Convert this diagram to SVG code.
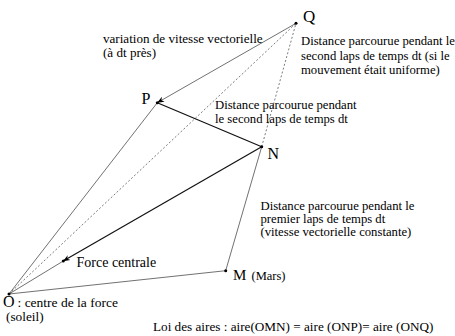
<svg xmlns="http://www.w3.org/2000/svg" width="455" height="336" viewBox="0 0 455 336">
<style>
text{font-family:"Liberation Serif","Times New Roman",serif;fill:#000}
.t{font-size:12.7px}
.big{font-size:16px}
.thin{stroke:#333;stroke-width:0.7;fill:none}
.dot{stroke:#444;stroke-width:0.7;stroke-dasharray:2,2;fill:none}
.thick{stroke:#111;stroke-width:1.2;fill:none}
.pt{fill:#000}
</style>
<defs>
<marker id="ah" viewBox="0 0 10 10" refX="9" refY="5" markerWidth="7" markerHeight="7" markerUnits="userSpaceOnUse" orient="auto">
<path d="M0,1 L10,5 L0,9 L3,5 Z" fill="#000"/>
</marker>
</defs>
<rect width="455" height="336" fill="#fff"/>
<g id="connectors">
<line class="thin" x1="9" y1="294" x2="157.3" y2="102.7"/>
<line class="dot" x1="9" y1="294" x2="296" y2="23.3"/>
<line class="thin" x1="9" y1="294" x2="63.3" y2="261"/>
<line class="thin" x1="9" y1="294" x2="225.7" y2="270.7"/>
<line class="thin" x1="225.7" y1="270.7" x2="261.7" y2="146.7"/>
<line class="dot" x1="261.7" y1="146.7" x2="296" y2="23.3"/>
<line class="thick" x1="261.7" y1="146.7" x2="157.3" y2="102.7"/>
<line class="thin" x1="296" y1="23.3" x2="157.8" y2="102.4" marker-end="url(#ah)"/>
<line class="thick" x1="261.7" y1="146.7" x2="63.6" y2="260.8" marker-end="url(#ah)"/>
</g>
<g id="node-O">
<circle class="pt" cx="9" cy="294" r="1.5"/>
<text x="3" y="307" class="big">O</text>
<text x="17.5" y="307" font-size="13.5px">: centre de la force</text>
<text x="6" y="321" font-size="13.3px">(soleil)</text>
</g>
<g id="node-M">
<circle class="pt" cx="225.7" cy="270.7" r="1.5"/>
<text x="233" y="280" font-size="15px">M</text>
<text x="251.5" y="280" font-size="12.5px">(Mars)</text>
</g>
<g id="node-N">
<circle class="pt" cx="261.7" cy="146.7" r="1.5"/>
<text x="267.5" y="158.5" class="big">N</text>
</g>
<g id="node-P">
<circle class="pt" cx="157.3" cy="102.7" r="1.5"/>
<text x="141.5" y="103.5" class="big">P</text>
</g>
<g id="node-Q">
<circle class="pt" cx="296" cy="23.3" r="1.5"/>
<text x="303" y="22" font-size="17px">Q</text>
</g>
<g id="node-F">
<circle class="pt" cx="63.3" cy="261" r="1.5"/>
<text x="76.5" y="267" font-size="14px">Force centrale</text>
</g>
<g id="labels">
<text x="103" y="43" font-size="13.1px">variation de vitesse vectorielle</text>
<text x="103" y="57" font-size="13.1px">(à dt près)</text>
<text x="301" y="45" class="t">Distance parcourue pendant le</text>
<text x="301" y="59.5" class="t">second laps de temps dt (si le</text>
<text x="301" y="73.5" class="t">mouvement  était uniforme)</text>
<text x="215" y="109" class="t">Distance parcourue pendant</text>
<text x="215" y="122.5" class="t">le second laps de temps dt</text>
<text x="260.5" y="210" class="t">Distance parcourue pendant le</text>
<text x="260.5" y="223" class="t">premier laps de temps dt</text>
<text x="260.5" y="236" class="t">(vitesse vectorielle constante)</text>
<text x="153" y="330.5" font-size="13.2px">Loi des aires : aire(OMN) = aire (ONP)= aire (ONQ)</text>
</g>
</svg>
